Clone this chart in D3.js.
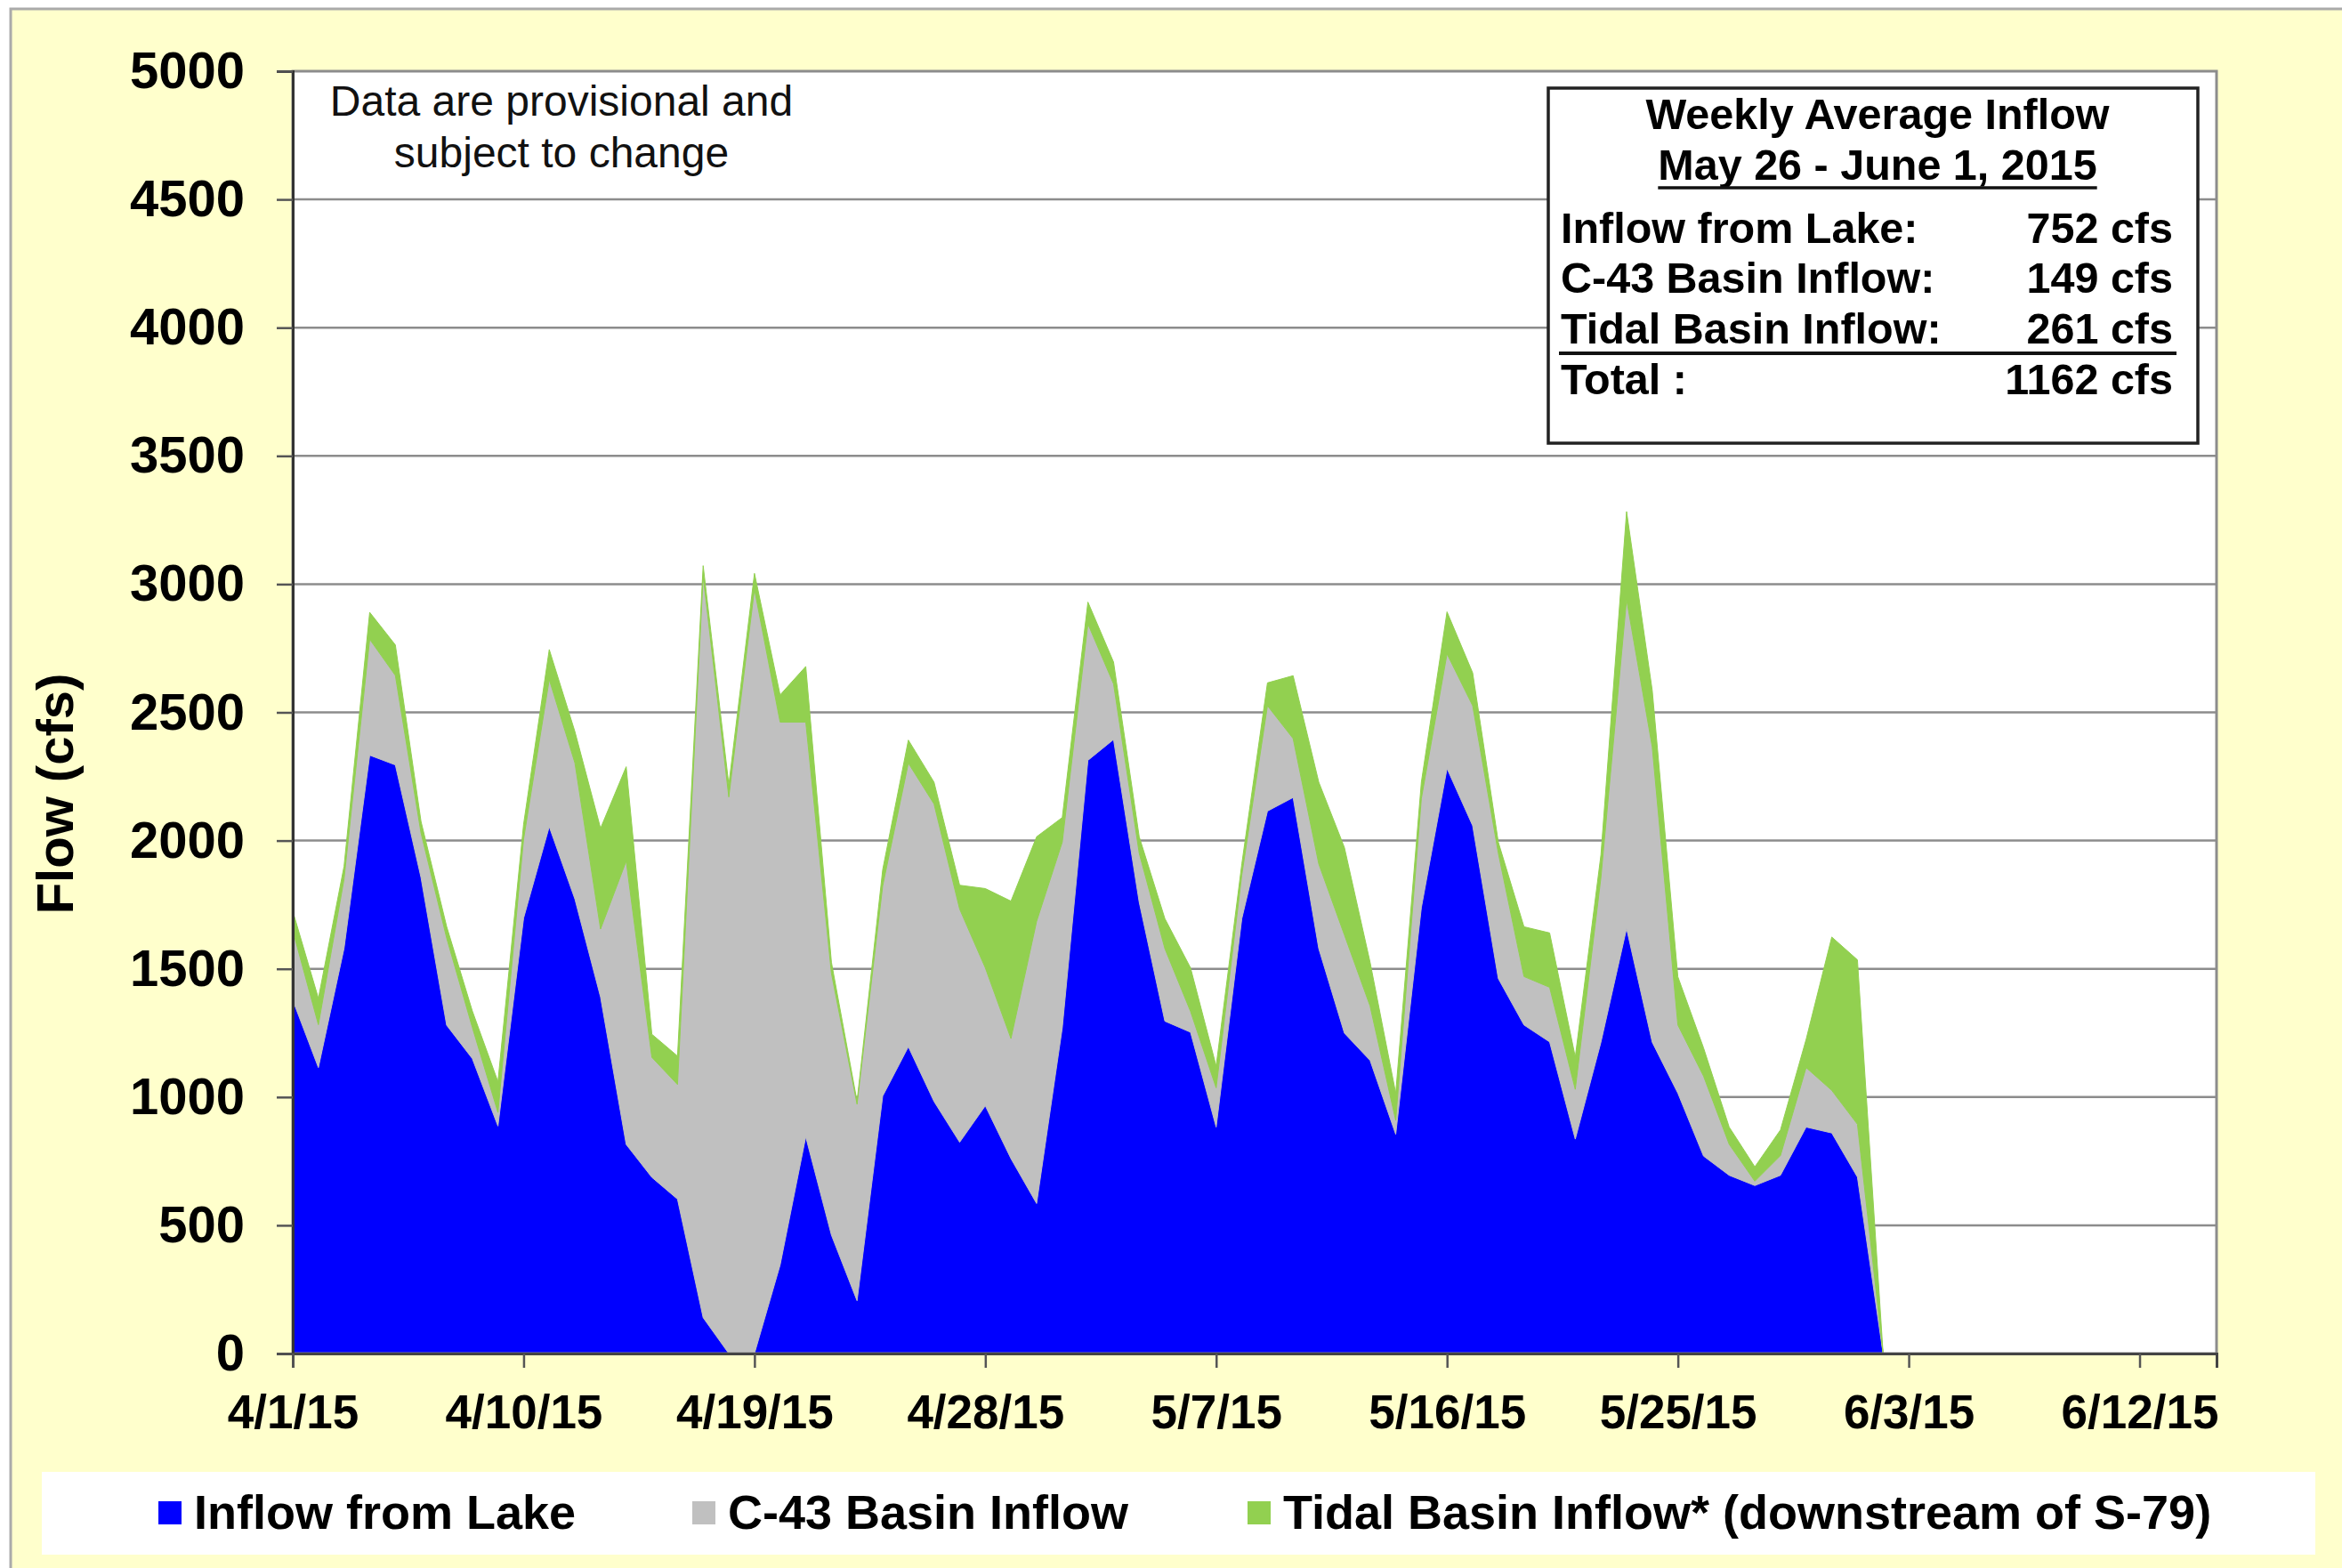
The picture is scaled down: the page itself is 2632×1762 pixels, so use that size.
<!DOCTYPE html>
<html>
<head>
<meta charset="utf-8">
<script src="https://cdn.jsdelivr.net/npm/d3@7"></script>
<style>
  html, body { margin: 0; padding: 0; background: #ffffff; }
  svg { display: block; }
  text { font-family: "Liberation Sans", Arial, sans-serif; }
</style>
</head>
<body>
<svg id="chart" width="2632" height="1762"></svg>
<script>
// ---------- DATA ----------
const startDate = "4/1/15";
const endDate = "6/15/15";
const dates = [
  "4/1/15","4/2/15","4/3/15","4/4/15","4/5/15","4/6/15","4/7/15","4/8/15","4/9/15","4/10/15",
  "4/11/15","4/12/15","4/13/15","4/14/15","4/15/15","4/16/15","4/17/15","4/18/15","4/19/15","4/20/15",
  "4/21/15","4/22/15","4/23/15","4/24/15","4/25/15","4/26/15","4/27/15","4/28/15","4/29/15","4/30/15",
  "5/1/15","5/2/15","5/3/15","5/4/15","5/5/15","5/6/15","5/7/15","5/8/15","5/9/15","5/10/15",
  "5/11/15","5/12/15","5/13/15","5/14/15","5/15/15","5/16/15","5/17/15","5/18/15","5/19/15","5/20/15",
  "5/21/15","5/22/15","5/23/15","5/24/15","5/25/15","5/26/15","5/27/15","5/28/15","5/29/15","5/30/15",
  "5/31/15","6/1/15","6/2/15"
];
const inflowLake = [
  1378,1115,1580,2333,2295,1856,1280,1150,887,1698,
  2054,1772,1390,815,687,602,140,0,0,345,
  845,462,206,1004,1196,983,824,966,760,585,
  1270,2313,2394,1760,1296,1253,883,1696,2115,2168,
  1579,1249,1143,855,1739,2281,2058,1462,1281,1215,
  836,1214,1657,1214,1015,770,695,655,695,883,
  860,688,0
];
const c43Basin = [
  272,167,270,452,349,174,340,122,53,308,
  574,531,265,1105,468,447,2890,2170,2980,2117,
  1617,1021,766,820,1106,1160,909,538,468,1100,
  724,532,217,191,283,81,153,170,411,230,
  330,383,212,54,425,447,468,489,189,213,
  194,642,1283,1151,266,312,121,17,77,232,
  166,206,0
];
const tidalBasin = [
  75,103,50,105,119,45,45,64,120,58,
  117,122,393,368,90,111,42,48,62,106,
  217,43,11,63,90,85,93,309,536,330,
  96,85,85,64,117,170,85,43,89,245,
  319,341,171,106,64,164,128,43,194,212,
  126,88,343,221,188,110,67,56,100,110,
  598,641,0
];
const seriesKeys = ["lake", "c43", "tidal"];
const seriesNames = ["Inflow from Lake", "C-43 Basin Inflow", "Tidal Basin Inflow* (downstream of S-79)"];
const seriesColors = ["#0000FF", "#C0C0C0", "#92D050"];
const xTickLabels = ["4/1/15","4/10/15","4/19/15","4/28/15","5/7/15","5/16/15","5/25/15","6/3/15","6/12/15"];
const yTickValues = [0,500,1000,1500,2000,2500,3000,3500,4000,4500,5000];
const boxTitle = ["Weekly Average Inflow", "May 26 - June 1, 2015"];
const boxLabels = ["Inflow from Lake:", "C-43 Basin Inflow:", "Tidal Basin Inflow:", "Total :"];
const boxValues = ["752 cfs", "149 cfs", "261 cfs", "1162 cfs"];
const noteLines = ["Data are provisional and", "subject to change"];
const yTitle = "Flow (cfs)";

// ---------- LAYOUT ----------
const svg = d3.select("#chart");
const plot = { left: 329, right: 2491, top: 80, bottom: 1521 };
const parse = d3.timeParse("%m/%d/%y");

// Background panel
svg.append("rect").attr("x", 12).attr("y", 10).attr("width", 2640).attr("height", 1780)
  .attr("fill", "#FFFFCC").attr("stroke", "#AAAAAA").attr("stroke-width", 3);

// Plot area
svg.append("rect").attr("x", plot.left).attr("y", plot.top)
  .attr("width", plot.right - plot.left).attr("height", plot.bottom - plot.top)
  .attr("fill", "#FFFFFF");

const x = d3.scaleTime().domain([parse(startDate), parse(endDate)]).range([plot.left, plot.right]);
const y = d3.scaleLinear().domain([0, 5000]).range([plot.bottom, plot.top]);

// Gridlines
svg.append("g").selectAll("line").data(yTickValues.filter(v => v > 0 && v < 5000)).join("line")
  .attr("x1", plot.left).attr("x2", plot.right)
  .attr("y1", d => y(d)).attr("y2", d => y(d))
  .attr("stroke", "#8C8C8C").attr("stroke-width", 2.5);

// Stacked data
const rows = dates.map((d, i) => ({ date: parse(d), lake: inflowLake[i], c43: c43Basin[i], tidal: tidalBasin[i] }));
const stacked = d3.stack().keys(seriesKeys)(rows);
const area = d3.area().x(d => x(d.data.date)).y0(d => y(d[0])).y1(d => y(d[1]));

svg.append("g").selectAll("path").data(stacked).join("path")
  .attr("d", area)
  .attr("fill", (d, i) => seriesColors[i])
  .attr("stroke", (d, i) => seriesColors[i])
  .attr("stroke-width", 1);

// Frame (top/right)
svg.append("rect").attr("x", plot.left).attr("y", plot.top)
  .attr("width", plot.right - plot.left).attr("height", plot.bottom - plot.top)
  .attr("fill", "none").attr("stroke", "#8C8C8C").attr("stroke-width", 3);

// Y axis
const yAxis = svg.append("g").attr("transform", `translate(${plot.left},0)`)
  .call(d3.axisLeft(y).tickValues(yTickValues).tickSize(18).tickPadding(36).tickFormat(d3.format("d")));
yAxis.select(".domain").attr("stroke", "#333").attr("stroke-width", 3);
yAxis.selectAll(".tick line").attr("stroke", "#555").attr("stroke-width", 2.5);
yAxis.selectAll(".tick text").attr("font-size", 58).attr("font-weight", "bold")
  .attr("fill", "#000").attr("font-family", "Liberation Sans, Arial, sans-serif");

// X axis
const xAxis = svg.append("g").attr("transform", `translate(0,${plot.bottom})`)
  .call(d3.axisBottom(x).tickValues(xTickLabels.map(parse)).tickSize(16).tickPadding(30)
    .tickFormat(d3.timeFormat("%-m/%-d/%y")));
xAxis.select(".domain").attr("stroke", "#444").attr("stroke-width", 3);
xAxis.selectAll(".tick line").attr("stroke", "#555").attr("stroke-width", 2.5);
xAxis.selectAll(".tick text").attr("font-size", 53).attr("font-weight", "bold")
  .attr("fill", "#000").attr("font-family", "Liberation Sans, Arial, sans-serif");

// Y title
svg.append("text").attr("transform", "translate(82,892) rotate(-90)")
  .attr("text-anchor", "middle").attr("font-size", 58).attr("font-weight", "bold")
  .text(yTitle);

// Note
svg.append("g").selectAll("text").data(noteLines).join("text")
  .attr("x", 631).attr("y", (d, i) => 130 + i * 58)
  .attr("text-anchor", "middle").attr("font-size", 48).attr("fill", "#111")
  .text(d => d);

// Weekly average box
const box = { x: 1740, y: 99, w: 730, h: 399 };
svg.append("rect").attr("x", box.x).attr("y", box.y).attr("width", box.w).attr("height", box.h)
  .attr("fill", "#FFFFFF").attr("stroke", "#222").attr("stroke-width", 3.5);
const bcx = 2110;
svg.append("text").attr("x", bcx).attr("y", 145).attr("text-anchor", "middle")
  .attr("font-size", 48.5).attr("font-weight", "bold").text(boxTitle[0]);
const t2 = svg.append("text").attr("x", bcx).attr("y", 202).attr("text-anchor", "middle")
  .attr("font-size", 48.5).attr("font-weight", "bold").text(boxTitle[1]);
const t2w = t2.node().getComputedTextLength();
svg.append("line").attr("x1", bcx - t2w / 2).attr("x2", bcx + t2w / 2)
  .attr("y1", 211).attr("y2", 211).attr("stroke", "#111").attr("stroke-width", 3.5);

const rowY = [273, 329, 386, 443];
svg.append("g").selectAll("text").data(boxLabels).join("text")
  .attr("x", 1754).attr("y", (d, i) => rowY[i])
  .attr("font-size", 48.5).attr("font-weight", "bold").text(d => d);
svg.append("g").selectAll("text").data(boxValues).join("text")
  .attr("x", 2442).attr("y", (d, i) => rowY[i]).attr("text-anchor", "end")
  .attr("font-size", 48.5).attr("font-weight", "bold").text(d => d);
svg.append("line").attr("x1", 1752).attr("x2", 2446).attr("y1", 397).attr("y2", 397)
  .attr("stroke", "#111").attr("stroke-width", 4);

// Legend
svg.append("rect").attr("x", 47).attr("y", 1654).attr("width", 2555).attr("height", 93)
  .attr("fill", "#FFFFFF");
const legX = [178, 778, 1402];
const leg = svg.append("g").selectAll("g").data(seriesNames).join("g")
  .attr("transform", (d, i) => `translate(${legX[i]},0)`);
leg.append("rect").attr("x", 0).attr("y", 1687).attr("width", 26).attr("height", 26)
  .attr("fill", (d, i) => seriesColors[i]);
leg.append("text").attr("x", 40).attr("y", 1718).attr("font-size", 54).attr("font-weight", "bold")
  .text(d => d);
</script>
</body>
</html>
